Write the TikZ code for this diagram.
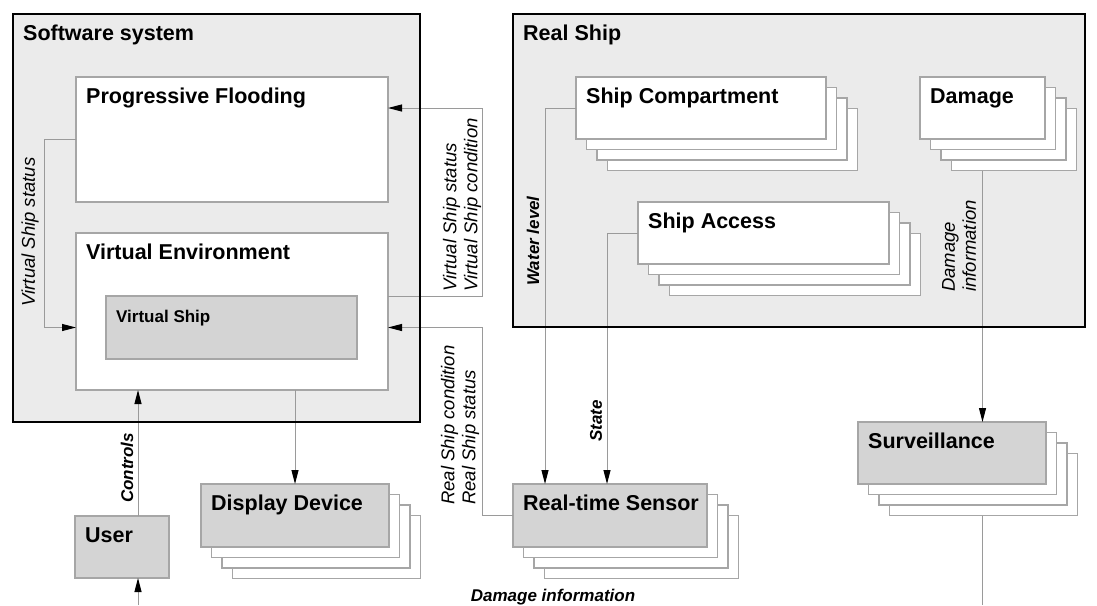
\documentclass[tikz,border=0pt]{standalone}
\usepackage{fontspec}
\setmainfont{Liberation Sans}
\usetikzlibrary{arrows.meta}
\definecolor{panel}{HTML}{EBEBEB}
\definecolor{unitgray}{HTML}{D4D4D4}
\definecolor{edgegray}{HTML}{A6A6A6}
\definecolor{wiregray}{HTML}{9A9A9A}

% a box with three copies stacked behind it
\newcommand\unitstack[7]{%
  \foreach \k in {3,2,1}{%
    \node[unit, fill=white, minimum width=#4pt, minimum height=#5pt] (#1-\k) at ({#2+\k*10.5},{#3+\k*10.5}) {};}
  \node[unit, fill=#6, minimum width=#4pt, minimum height=#5pt] (#1) at (#2,#3) {};
  \node[boxtitle] (#1-title) at ([shift={(10,26)}]#1.north west) {#7};
}
% a single box
\newcommand\unitsingle[7]{%
  \node[unit, fill=#6, minimum width=#4pt, minimum height=#5pt] (#1) at (#2,#3) {};
  \node[boxtitle] (#1-title) at ([shift={(10,26)}]#1.north west) {#7};
}

\begin{document}
\begin{tikzpicture}[x=1pt,y=-1pt,
  panelbox/.style={fill=panel, draw=none, anchor=north west, inner sep=0pt, outer sep=0pt},
  panelframe/.style={draw=black, line width=2.5pt},
  unit/.style={draw=edgegray, line width=1.2pt, anchor=north west, inner sep=0pt, outer sep=0pt},
  boxtitle/.style={anchor=base west, inner sep=0pt, font=\fontsize{21.5}{24}\selectfont\bfseries},
  smalltitle/.style={anchor=base west, inner sep=0pt, font=\fontsize{17}{20}\selectfont\bfseries},
  wire/.style={draw=wiregray, line width=1pt},
  flow/.style={wire, -{Triangle[length=14pt,width=7pt,color=black]}},
  lab/.style={inner sep=0pt, font=\fontsize{18.5}{21}\selectfont\itshape},
  blab/.style={inner sep=0pt, font=\fontsize{17}{20}\selectfont\bfseries\itshape},
]
\useasboundingbox (0,0) rectangle (1097,605);

% containers
\node[panelbox, minimum width=407pt, minimum height=408pt] (ss) at (13,14) {};
\node[boxtitle] (ss-title) at (23,40) {Software system};
\node[panelbox, minimum width=572pt, minimum height=313pt] (rs) at (513,14) {};
\node[boxtitle] (rs-title) at (523,40) {Real Ship};

% software components
\unitsingle{pf}{76}{77}{312}{125}{white}{Progressive Flooding}
\unitsingle{ve}{76}{233}{312}{157}{white}{Virtual Environment}
\node[unit, fill=unitgray, minimum width=251pt, minimum height=63pt] (vs) at (106,296) {};
\node[smalltitle] (vs-title) at ([shift={(10,26)}]vs.north west) {Virtual Ship};

% real ship components
\unitstack{sc}{576}{77}{250}{62}{white}{Ship Compartment}
\unitstack{dmg}{920}{77}{125}{62}{white}{Damage}
\unitstack{sa}{638}{202}{251}{62}{white}{Ship Access}

% outside components
\unitsingle{user}{75}{516}{94}{62}{unitgray}{User}
\unitstack{dd}{201}{484}{188}{63}{unitgray}{Display Device}
\unitstack{rts}{513}{484}{194}{63}{unitgray}{Real-time Sensor}
\unitstack{sv}{858}{422}{188}{62}{unitgray}{Surveillance}

% helper coordinates
\coordinate (busR) at (482,0);
\coordinate (ctl) at (138,0);
\coordinate (userin) at (138,605);
\coordinate (svout) at (982.5,605);
\coordinate (pfin) at ([shift={(0,31)}]pf.north east);

% connectors
\draw[flow] (pf.west) -- ++(-32,0) |- (ve.west |- vs.center);
\draw[flow] (ve.east |- vs.north) -| (busR |- pfin) -- (pfin);
\draw[flow] (rts.west) -| (busR |- vs.center) -- (ve.east |- vs.center);
\draw[flow] (user.north -| ctl) -- (ve.south -| ctl);
\draw[flow] (userin) -- (user.south -| userin);
\draw[flow] (ve.south -| dd.north) -- (dd.north);
\draw[flow] (sc.west) -| ([shift={(32,0)}]rts.north west);
\draw[flow] (sa.west) -| ([shift={(94,0)}]rts.north west);
\draw[flow] (dmg-3.south -| dmg.south) -- (sv.north -| dmg.south);
\draw[wire] (sv-3.south -| svout) -- (svout);

% container frames on top
\draw[panelframe] (ss.north west) rectangle (ss.south east);
\draw[panelframe] (rs.north west) rectangle (rs.south east);

% connector labels
\node[lab, rotate=90] (l1) at (30,232) {Virtual Ship status};
\node[lab, rotate=90, anchor=west, align=left] (l2) at (462,292) {Virtual Ship status\\Virtual Ship condition};
\node[lab, rotate=90, anchor=west, align=left] (l3) at (460,505) {Real Ship condition\\Real Ship status};
\node[blab, rotate=90, anchor=west] (l4) at (533,286) {Water level};
\node[blab, rotate=90, anchor=west] (l5) at (596,442) {State};
\node[lab, rotate=90, anchor=west, align=left] (l6) at (959,292) {Damage\\information};
\node[blab, rotate=90, anchor=west] (l7) at (127,503) {Controls};
\node[blab, anchor=base] (l8) at (553,601) {Damage information};
\end{tikzpicture}
\end{document}
